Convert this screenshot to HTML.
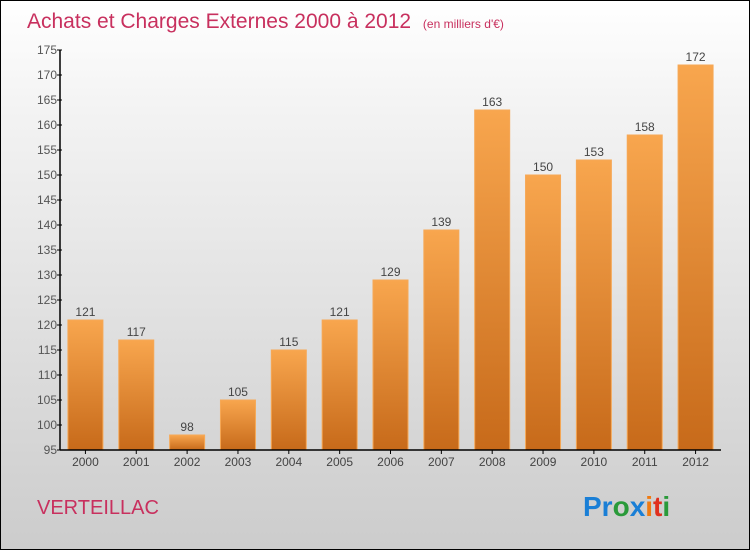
<!DOCTYPE html>
<html><head><meta charset="utf-8"><style>
body{margin:0}
#c{position:relative;width:748px;height:548px;border:1px solid #000;background:linear-gradient(#fff,#f3f3f3 20%,#ccc);font-family:"Liberation Sans",sans-serif;overflow:hidden}
</style></head><body>
<div id="c">
<svg width="748" height="548">
<defs><linearGradient id="g" x1="0" y1="0" x2="0" y2="1"><stop offset="0" stop-color="#f8a64e"/><stop offset="1" stop-color="#c76a1a"/></linearGradient></defs>
<text x="26" y="27" font-size="21" fill="#c8305e">Achats et Charges Externes 2000 à 2012 <tspan font-size="12" dx="6">(en milliers d'€)</tspan></text>
<g id="plot"></g>
<text x="36" y="513" font-size="20" fill="#c8305e">VERTEILLAC</text>
<text x="582" y="515" font-size="28" font-weight="bold"><tspan fill="#1a7fd6">Pr</tspan><tspan fill="#2a9a3a">o</tspan><tspan fill="#1a7fd6">x</tspan><tspan fill="#f07a10">i</tspan><tspan fill="#e0301e">t</tspan><tspan fill="#2a9a3a">i</tspan></text>
</svg></div>
<script>
const years=["2000","2001","2002","2003","2004","2005","2006","2007","2008","2009","2010","2011","2012"];
const values=[121,117,98,105,115,121,129,139,163,150,153,158,172];
const yTicks=[95,100,105,110,115,120,125,130,135,140,145,150,155,160,165,170,175];
const NS="http://www.w3.org/2000/svg";
const g=document.getElementById('plot');
const x0=59,x1=720,yb=449,yt=49,ymin=95,ymax=175;
const y=v=>yb-(v-ymin)/(ymax-ymin)*(yb-yt);
const bw=(x1-x0)/years.length;
function mk(t,a,txt){const e=document.createElementNS(NS,t);for(const k in a)e.setAttribute(k,a[k]);if(txt!=null)e.textContent=txt;g.appendChild(e);return e;}
years.forEach((yr,i)=>{const cx=x0+bw*(i+0.5),v=values[i];
const r=mk('rect',{x:cx-17.5,y:y(v),width:35,height:yb-y(v),fill:'url(#g)',stroke:'#f6a856','stroke-width':1});


const t=mk('text',{x:cx,y:y(v)-4,'text-anchor':'middle','font-size':12,fill:'#444'},v);


const l=mk('text',{x:cx,y:yb+16,'text-anchor':'middle','font-size':12,fill:'#444'},yr);


mk('line',{x1:cx,x2:cx,y1:yb,y2:yb+4,stroke:'#000'});
});
yTicks.forEach(v=>{const yy=y(v);
mk('line',{x1:x0-3,x2:x0+2,y1:yy,y2:yy,stroke:'#000'});
const t=mk('text',{x:x0-3,y:yy+4,'text-anchor':'end','font-size':12,fill:'#555'},v);


});
const ya=mk('line',{x1:x0,x2:x0,y1:yt,y2:yb,stroke:'#000','stroke-width':1.5});


const xa=mk('line',{x1:x0,x2:x1,y1:yb,y2:yb,stroke:'#000','stroke-width':1.5});


</script>
</body></html>
